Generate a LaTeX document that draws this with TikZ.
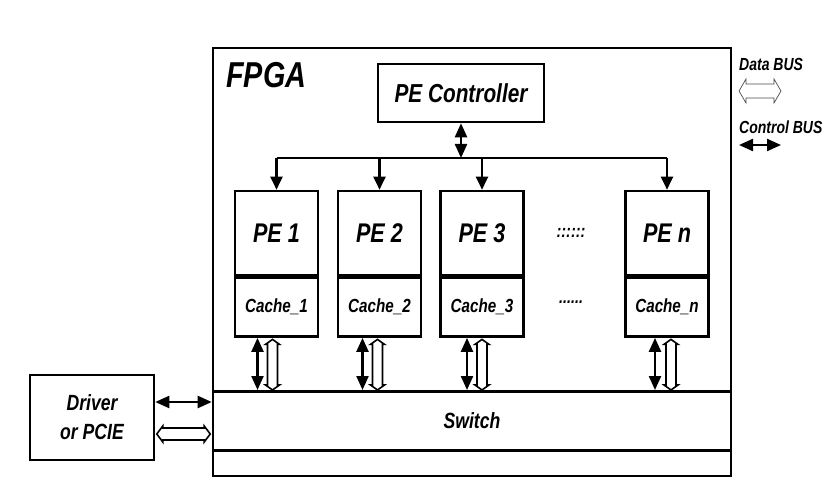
\documentclass[tikz,border=0pt]{standalone}
\usepackage{fontspec}
\setmainfont{Liberation Sans}[FakeStretch=0.8]
\usetikzlibrary{arrows.meta,calc}
\tikzset{
  box/.style={draw, line width=2.6pt, inner sep=0pt, fill=white},
  lbl/.style={font=\bfseries\itshape\fontsize{#1}{#1}\selectfont, inner sep=0pt},
  ctl/.style={line width=2.3pt, {Triangle[length=14pt,width=12pt]}-{Triangle[length=14pt,width=12pt]}},
  down/.style={line width=2.3pt, -{Triangle[length=13pt,width=12pt]}},
  hol/.style={line width=1.6pt, fill=white, line join=miter},
  busline/.style={line width=2.6pt}
}
% vertical hollow arrow: #2 top, #3 bottom, #4 half shaft, #5 half head, #6 head length
\newcommand\holv[6][]{%
  \draw[hol,#1] (#2) -- ($(#2)+(#5,#6)$) -- ($(#2)+(#4,#6)$) -- ($(#3)+(#4,-#6)$) -- ($(#3)+(#5,-#6)$) -- (#3)
    -- ($(#3)+(-#5,-#6)$) -- ($(#3)+(-#4,-#6)$) -- ($(#2)+(-#4,#6)$) -- ($(#2)+(-#5,#6)$) -- cycle;}
% horizontal hollow arrow: #2 left, #3 right
\newcommand\holh[6][]{%
  \draw[hol,#1] (#2) -- ($(#2)+(#6,#5)$) -- ($(#2)+(#6,#4)$) -- ($(#3)+(-#6,#4)$) -- ($(#3)+(-#6,#5)$) -- (#3)
    -- ($(#3)+(-#6,-#5)$) -- ($(#3)+(-#6,-#4)$) -- ($(#2)+(#6,-#4)$) -- ($(#2)+(#6,-#5)$) -- cycle;}
\begin{document}
\begin{tikzpicture}[x=1pt,y=-1pt]
\useasboundingbox (0,0) rectangle (838,494);
\fill[white] (0,0) rectangle (838,494);
% FPGA
\node[box, minimum width=518pt, minimum height=428pt] (fpga) at (472,262) {};
\node[lbl=36, anchor=west] (fpgat) at (226,75) {FPGA};
% PE Controller
\node[box, minimum width=166pt, minimum height=58pt, lbl=26] (ctrl) at (461,93) {PE Controller};
% PEs
\foreach \n/\x/\t/\c in {pe1/276.5/PE 1/Cache\_1, pe2/379.5/PE 2/Cache\_2, pe3/482/PE 3/Cache\_3, pen/667/PE \textit{n}/Cache\_\textit{n}}{
  \node[box, minimum width=83pt, minimum height=84pt, lbl=27] (\n) at (\x,233) {\t};
  \node[box, minimum width=83pt, minimum height=59pt, lbl=19, anchor=north] (\n c) at (\n.south) {\c};
}
\node[lbl=18] (dots1) at (571,233) {::::::};
\node[lbl=18] (dots2) at (571,302) {......};
% Switch
\node[box, minimum width=518pt, minimum height=59pt, lbl=22, anchor=north west] (sw) at (fpga.north west |- 0,390) {Switch};
% Bus
\coordinate (bl) at (pe1.north |- 0,158);
\coordinate (br) at (pen.north |- 0,158);
\draw[busline] (bl) -- (br);
\draw[ctl] (ctrl.south) -- (ctrl.south |- bl);
\foreach \n in {pe1,pe2,pe3,pen}{
  \draw[down] (\n.north |- bl) -- (\n.north);
}
% cache to switch
\foreach \n/\a/\b in {pe1c/-19/-4, pe2c/-17/-2, pe3c/-15/0, penc/-12/4}{
  \coordinate (a1) at ($(\n.south)+(\a,0)$);
  \coordinate (b1) at ($(\n.south)+(\b,1.5)$);
  \coordinate (b2) at (b1 |- sw.north);
  \draw[ctl] (a1) -- (a1 |- sw.north);
  \holv{b1}{b2}{5}{7}{5}
}
% Driver
\node[box, minimum width=124pt, minimum height=85pt, lbl=22, align=center] (drv) at (92,417.5) {Driver\\[7pt]or PCIE};
\coordinate (d1) at ($(drv.east)+(0,-15.5)$);
\coordinate (d2) at ($(drv.east)+(1.5,16.5)$);
\coordinate (d3) at ($(d2 -| fpga.west)+(-1.5,0)$);
\draw[ctl] (d1) -- (d1 -| fpga.west);
\holh{d2}{d3}{6}{8}{6}
% Legend
\node[lbl=17.5, anchor=west] (ldat) at (739,64) {Data BUS};
\node[lbl=17.5, anchor=west] (lctl) at (739,127) {Control BUS};
\coordinate (l1) at (739,91); \coordinate (l2) at (781,91);
\coordinate (l3) at (739,145); \coordinate (l4) at (781,145);
\holh[line width=0.7pt, draw=black!70]{l1}{l2}{7}{12}{7}
\draw[ctl] (l3) -- (l4);
\end{tikzpicture}
\end{document}
